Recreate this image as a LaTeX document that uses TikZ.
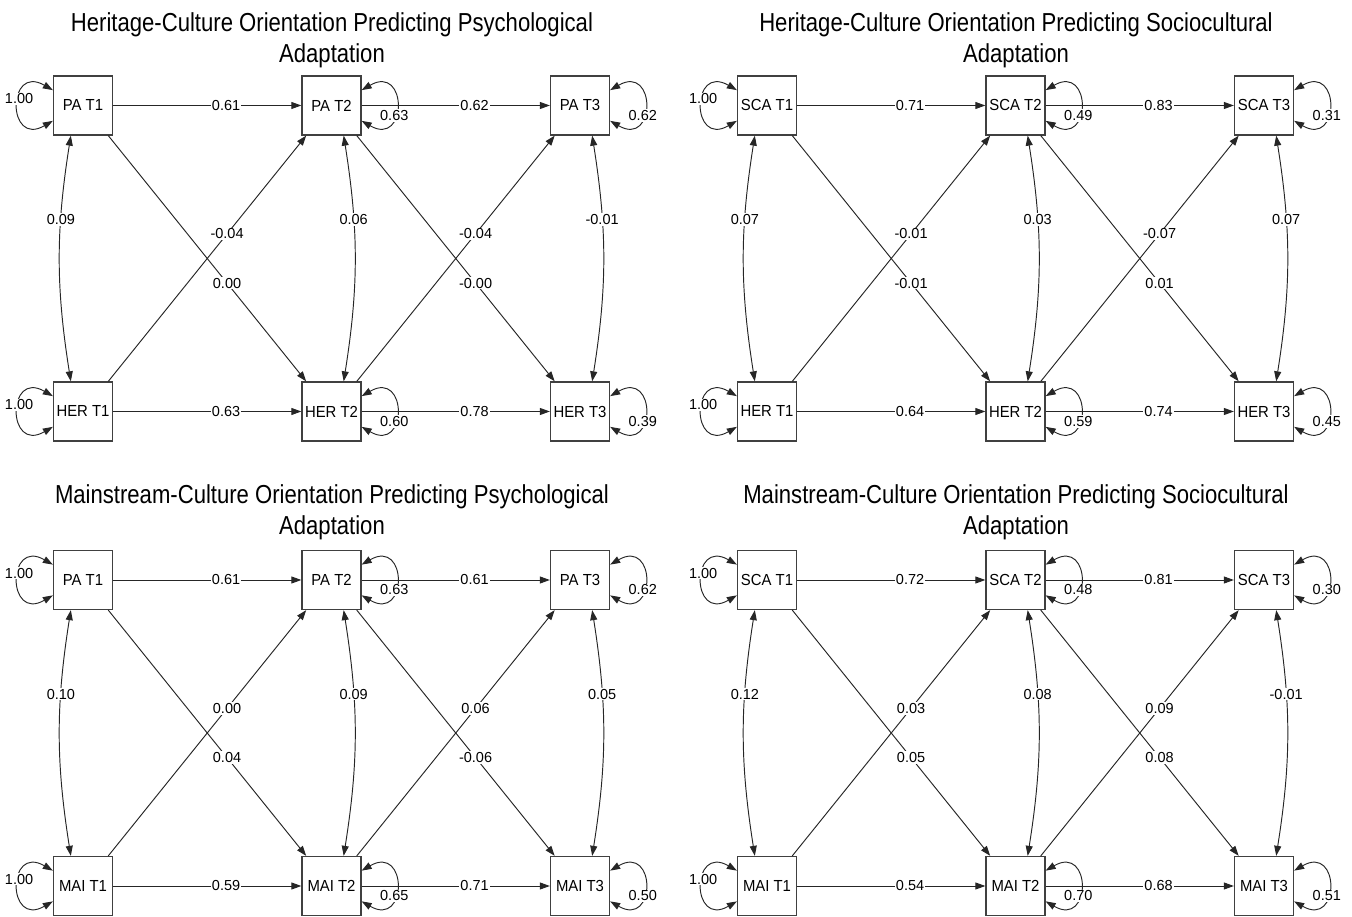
\documentclass[tikz,border=0pt]{standalone}
\usepackage{fontspec}
\setmainfont{Liberation Sans}
\newfontfamily\titlefont[FakeStretch=0.85]{Liberation Sans}
\newfontfamily\boxfont[FakeStretch=0.93]{Liberation Sans}
\usetikzlibrary{positioning,arrows.meta}

\tikzset{
  box/.style={draw=black!75, line width=1.3pt, fill=white, minimum size=59pt, inner sep=0pt,
    font=\boxfont\fontsize{16}{16}\selectfont},
  arr/.style={-{Triangle[length=10pt,width=7pt]}, line width=0.95pt, draw=black!85},
  dbl/.style={{Triangle[length=10pt,width=7pt]}-{Triangle[length=10pt,width=7pt]}, line width=0.95pt, draw=black!85},
  lab/.style={fill=white, inner sep=1pt, font=\fontsize{14.5}{14.5}\selectfont},
  ttl/.style={align=center, anchor=base, inner sep=0pt, font=\titlefont\fontsize{26}{31}\selectfont},
  loopl/.style={out=150, in=210, looseness=4.45},
  loopr/.style={out=30, in=-30, looseness=4.45},
}

\begin{document}
\begin{tikzpicture}[x=1pt, y=1pt, node distance=306pt and 248.5pt, on grid]
    \useasboundingbox (0,0) rectangle (1352,916);

    % heritage -> psychological
    \node[ttl] (hp-title) at (332,853) {Heritage-Culture Orientation Predicting Psychological\\Adaptation};
    \node[box] (hp-pa1) at (83,810.5) {PA T1};
    \node[box, right=of hp-pa1] (hp-pa2) {PA T2};
    \node[box, right=of hp-pa2] (hp-pa3) {PA T3};
    \node[box, below=of hp-pa1] (hp-her1) {HER T1};
    \node[box, below=of hp-pa2] (hp-her2) {HER T2};
    \node[box, below=of hp-pa3] (hp-her3) {HER T3};
    \draw[arr] (hp-pa1) -- node[lab, pos=0.6] {0.61} (hp-pa2);
    \draw[arr] (hp-pa2) -- node[lab, pos=0.6] {0.62} (hp-pa3);
    \draw[arr] (hp-her1) -- node[lab, pos=0.6] {0.63} (hp-her2);
    \draw[arr] (hp-her2) -- node[lab, pos=0.6] {0.78} (hp-her3);
    \draw[arr] (hp-pa1.-50) -- node[lab, pos=0.6] {0.00} (hp-her2.130);
    \draw[arr] (hp-her1.50) -- node[lab, pos=0.6] {-0.04} (hp-pa2.-130);
    \draw[arr] (hp-pa2.-50) -- node[lab, pos=0.6] {-0.00} (hp-her3.130);
    \draw[arr] (hp-her2.50) -- node[lab, pos=0.6] {-0.04} (hp-pa3.-130);
    \draw[dbl] (hp-pa1.-112) to[bend right=9] node[lab, pos=0.33] {0.09} (hp-her1.112);
    \draw[dbl] (hp-pa2.-68) to[bend left=9] node[lab, pos=0.33] {0.06} (hp-her2.68);
    \draw[dbl] (hp-pa3.-68) to[bend left=9] node[lab, pos=0.33] {-0.01} (hp-her3.68);
    \draw[dbl] (hp-pa1.153) to[loopl] node[lab, pos=0.42] {1.00} (hp-pa1.207);
    \draw[dbl] (hp-her1.153) to[loopl] node[lab, pos=0.42] {1.00} (hp-her1.207);
    \draw[dbl] (hp-pa2.27) to[loopr] node[lab, pos=0.62] {0.63} (hp-pa2.-27);
    \draw[dbl] (hp-pa3.27) to[loopr] node[lab, pos=0.62] {0.62} (hp-pa3.-27);
    \draw[dbl] (hp-her2.27) to[loopr] node[lab, pos=0.62] {0.60} (hp-her2.-27);
    \draw[dbl] (hp-her3.27) to[loopr] node[lab, pos=0.62] {0.39} (hp-her3.-27);

    % heritage -> sociocultural
    \begin{scope}[xshift=684pt]
    \node[ttl] (hs-title) at (332,853) {Heritage-Culture Orientation Predicting Sociocultural\\Adaptation};
    \node[box] (hs-sca1) at (83,810.5) {SCA T1};
    \node[box, right=of hs-sca1] (hs-sca2) {SCA T2};
    \node[box, right=of hs-sca2] (hs-sca3) {SCA T3};
    \node[box, below=of hs-sca1] (hs-her1) {HER T1};
    \node[box, below=of hs-sca2] (hs-her2) {HER T2};
    \node[box, below=of hs-sca3] (hs-her3) {HER T3};
    \draw[arr] (hs-sca1) -- node[lab, pos=0.6] {0.71} (hs-sca2);
    \draw[arr] (hs-sca2) -- node[lab, pos=0.6] {0.83} (hs-sca3);
    \draw[arr] (hs-her1) -- node[lab, pos=0.6] {0.64} (hs-her2);
    \draw[arr] (hs-her2) -- node[lab, pos=0.6] {0.74} (hs-her3);
    \draw[arr] (hs-sca1.-50) -- node[lab, pos=0.6] {-0.01} (hs-her2.130);
    \draw[arr] (hs-her1.50) -- node[lab, pos=0.6] {-0.01} (hs-sca2.-130);
    \draw[arr] (hs-sca2.-50) -- node[lab, pos=0.6] {0.01} (hs-her3.130);
    \draw[arr] (hs-her2.50) -- node[lab, pos=0.6] {-0.07} (hs-sca3.-130);
    \draw[dbl] (hs-sca1.-112) to[bend right=9] node[lab, pos=0.33] {0.07} (hs-her1.112);
    \draw[dbl] (hs-sca2.-68) to[bend left=9] node[lab, pos=0.33] {0.03} (hs-her2.68);
    \draw[dbl] (hs-sca3.-68) to[bend left=9] node[lab, pos=0.33] {0.07} (hs-her3.68);
    \draw[dbl] (hs-sca1.153) to[loopl] node[lab, pos=0.42] {1.00} (hs-sca1.207);
    \draw[dbl] (hs-her1.153) to[loopl] node[lab, pos=0.42] {1.00} (hs-her1.207);
    \draw[dbl] (hs-sca2.27) to[loopr] node[lab, pos=0.62] {0.49} (hs-sca2.-27);
    \draw[dbl] (hs-sca3.27) to[loopr] node[lab, pos=0.62] {0.31} (hs-sca3.-27);
    \draw[dbl] (hs-her2.27) to[loopr] node[lab, pos=0.62] {0.59} (hs-her2.-27);
    \draw[dbl] (hs-her3.27) to[loopr] node[lab, pos=0.62] {0.45} (hs-her3.-27);
    \end{scope}

    % mainstream -> psychological
    \node[ttl] (mp-title) at (332,381) {Mainstream-Culture Orientation Predicting Psychological\\Adaptation};
    \node[box] (mp-pa1) at (83,336) {PA T1};
    \node[box, right=of mp-pa1] (mp-pa2) {PA T2};
    \node[box, right=of mp-pa2] (mp-pa3) {PA T3};
    \node[box, below=of mp-pa1] (mp-mai1) {MAI T1};
    \node[box, below=of mp-pa2] (mp-mai2) {MAI T2};
    \node[box, below=of mp-pa3] (mp-mai3) {MAI T3};
    \draw[arr] (mp-pa1) -- node[lab, pos=0.6] {0.61} (mp-pa2);
    \draw[arr] (mp-pa2) -- node[lab, pos=0.6] {0.61} (mp-pa3);
    \draw[arr] (mp-mai1) -- node[lab, pos=0.6] {0.59} (mp-mai2);
    \draw[arr] (mp-mai2) -- node[lab, pos=0.6] {0.71} (mp-mai3);
    \draw[arr] (mp-pa1.-50) -- node[lab, pos=0.6] {0.04} (mp-mai2.130);
    \draw[arr] (mp-mai1.50) -- node[lab, pos=0.6] {0.00} (mp-pa2.-130);
    \draw[arr] (mp-pa2.-50) -- node[lab, pos=0.6] {-0.06} (mp-mai3.130);
    \draw[arr] (mp-mai2.50) -- node[lab, pos=0.6] {0.06} (mp-pa3.-130);
    \draw[dbl] (mp-pa1.-112) to[bend right=9] node[lab, pos=0.33] {0.10} (mp-mai1.112);
    \draw[dbl] (mp-pa2.-68) to[bend left=9] node[lab, pos=0.33] {0.09} (mp-mai2.68);
    \draw[dbl] (mp-pa3.-68) to[bend left=9] node[lab, pos=0.33] {0.05} (mp-mai3.68);
    \draw[dbl] (mp-pa1.153) to[loopl] node[lab, pos=0.42] {1.00} (mp-pa1.207);
    \draw[dbl] (mp-mai1.153) to[loopl] node[lab, pos=0.42] {1.00} (mp-mai1.207);
    \draw[dbl] (mp-pa2.27) to[loopr] node[lab, pos=0.62] {0.63} (mp-pa2.-27);
    \draw[dbl] (mp-pa3.27) to[loopr] node[lab, pos=0.62] {0.62} (mp-pa3.-27);
    \draw[dbl] (mp-mai2.27) to[loopr] node[lab, pos=0.62] {0.65} (mp-mai2.-27);
    \draw[dbl] (mp-mai3.27) to[loopr] node[lab, pos=0.62] {0.50} (mp-mai3.-27);

    % mainstream -> sociocultural
    \begin{scope}[xshift=684pt]
    \node[ttl] (ms-title) at (332,381) {Mainstream-Culture Orientation Predicting Sociocultural\\Adaptation};
    \node[box] (ms-sca1) at (83,336) {SCA T1};
    \node[box, right=of ms-sca1] (ms-sca2) {SCA T2};
    \node[box, right=of ms-sca2] (ms-sca3) {SCA T3};
    \node[box, below=of ms-sca1] (ms-mai1) {MAI T1};
    \node[box, below=of ms-sca2] (ms-mai2) {MAI T2};
    \node[box, below=of ms-sca3] (ms-mai3) {MAI T3};
    \draw[arr] (ms-sca1) -- node[lab, pos=0.6] {0.72} (ms-sca2);
    \draw[arr] (ms-sca2) -- node[lab, pos=0.6] {0.81} (ms-sca3);
    \draw[arr] (ms-mai1) -- node[lab, pos=0.6] {0.54} (ms-mai2);
    \draw[arr] (ms-mai2) -- node[lab, pos=0.6] {0.68} (ms-mai3);
    \draw[arr] (ms-sca1.-50) -- node[lab, pos=0.6] {0.05} (ms-mai2.130);
    \draw[arr] (ms-mai1.50) -- node[lab, pos=0.6] {0.03} (ms-sca2.-130);
    \draw[arr] (ms-sca2.-50) -- node[lab, pos=0.6] {0.08} (ms-mai3.130);
    \draw[arr] (ms-mai2.50) -- node[lab, pos=0.6] {0.09} (ms-sca3.-130);
    \draw[dbl] (ms-sca1.-112) to[bend right=9] node[lab, pos=0.33] {0.12} (ms-mai1.112);
    \draw[dbl] (ms-sca2.-68) to[bend left=9] node[lab, pos=0.33] {0.08} (ms-mai2.68);
    \draw[dbl] (ms-sca3.-68) to[bend left=9] node[lab, pos=0.33] {-0.01} (ms-mai3.68);
    \draw[dbl] (ms-sca1.153) to[loopl] node[lab, pos=0.42] {1.00} (ms-sca1.207);
    \draw[dbl] (ms-mai1.153) to[loopl] node[lab, pos=0.42] {1.00} (ms-mai1.207);
    \draw[dbl] (ms-sca2.27) to[loopr] node[lab, pos=0.62] {0.48} (ms-sca2.-27);
    \draw[dbl] (ms-sca3.27) to[loopr] node[lab, pos=0.62] {0.30} (ms-sca3.-27);
    \draw[dbl] (ms-mai2.27) to[loopr] node[lab, pos=0.62] {0.70} (ms-mai2.-27);
    \draw[dbl] (ms-mai3.27) to[loopr] node[lab, pos=0.62] {0.51} (ms-mai3.-27);
    \end{scope}
\end{tikzpicture}
\end{document}
